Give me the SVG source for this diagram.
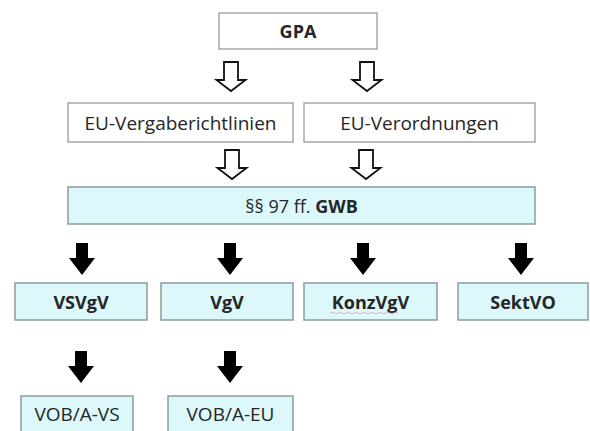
<svg xmlns="http://www.w3.org/2000/svg" width="590" height="431" viewBox="0 0 590 431">
<defs>
<style>
.wbox{fill:#ffffff;stroke:#9a9a9a;stroke-width:1.3}
.cbox{fill:#dcf8fb;stroke:#8c9c9c;stroke-width:1.5}
text{font-family:"Open Sans","Liberation Sans",sans-serif;fill:#262626;text-anchor:middle;dominant-baseline:central}
.n{font-size:19px}
.b{font-size:18px;font-weight:bold}
.g{font-size:18px}
.hol{fill:#ffffff;stroke:#111;stroke-width:1.8;stroke-linejoin:miter}
.sol{fill:#000}
</style>
<path id="ha" d="M-7,0 H7 V18 H14.5 L0,29 L-14.5,18 H-7 Z"/>
<path id="sa" d="M-6,0 H6 V15 H13 L0,32 L-13,15 H-6 Z"/>
</defs>
<g id="connectors">
<use href="#ha" class="hol" x="231" y="62"/>
<use href="#ha" class="hol" x="367" y="62"/>
<use href="#ha" class="hol" x="232" y="150"/>
<use href="#ha" class="hol" x="366" y="150"/>
<use href="#sa" class="sol" x="82" y="243"/>
<use href="#sa" class="sol" x="230" y="243"/>
<use href="#sa" class="sol" x="363" y="243"/>
<use href="#sa" class="sol" x="521" y="243"/>
<use href="#sa" class="sol" x="81" y="351"/>
<use href="#sa" class="sol" x="230" y="351"/>
</g>
<g id="gpa"><rect class="wbox" x="219" y="13" width="158" height="36"/><text class="b" x="298" y="31">GPA</text></g>
<g id="eu-richtlinien"><rect class="wbox" x="68" y="103" width="225" height="39"/><text class="n" x="180.5" y="122.5">EU-Vergaberichtlinien</text></g>
<g id="eu-verordnungen"><rect class="wbox" x="304" y="103" width="231" height="39"/><text class="n" x="419.5" y="122.5">EU-Verordnungen</text></g>
<g id="gwb"><rect class="cbox" x="68" y="187" width="467" height="37"/><text class="g" x="301.5" y="205.5">§§ 97 ff. <tspan font-weight="bold">GWB</tspan></text></g>
<g id="vsvgv"><rect class="cbox" x="15" y="283" width="132" height="37"/><text class="b" x="81" y="301.5">VSVgV</text></g>
<g id="vgv"><rect class="cbox" x="161" y="283" width="132" height="37"/><text class="b" x="227" y="301.5">VgV</text></g>
<g id="konzvgv"><rect class="cbox" x="304" y="283" width="133" height="37"/><text class="b" x="370.5" y="301.5">KonzVgV</text>
<path d="M330,313 q2,-1.5 4,0 t4,0 t4,0 t4,0 t4,0 t4,0 t4,0 t4,0 t4,0 t4,0 t4,0 t4,0 t4,0 t4,0 t4,0 t4,0 t4,0" fill="none" stroke="#e08080" stroke-width="0.8" opacity="0.7"/></g>
<g id="sektvo"><rect class="cbox" x="458" y="283" width="130" height="37"/><text class="b" x="523" y="301.5">SektVO</text></g>
<g id="vob-vs"><rect class="cbox" x="21" y="396" width="112" height="40"/><text class="n" x="77" y="414">VOB/A-VS</text></g>
<g id="vob-eu"><rect class="cbox" x="168" y="396" width="125" height="40"/><text class="n" x="230.5" y="414">VOB/A-EU</text></g>
</svg>
